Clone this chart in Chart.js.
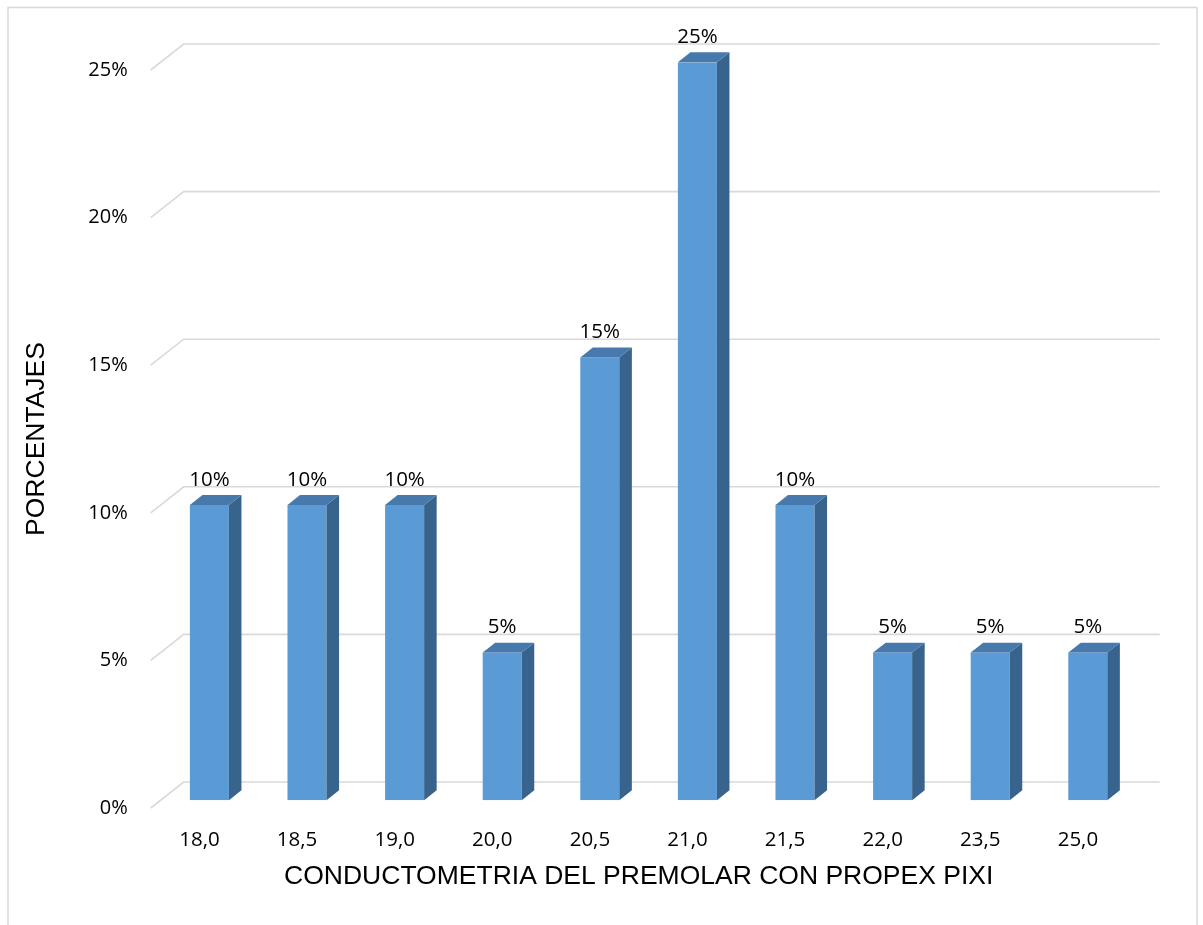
<!DOCTYPE html>
<html>
<head>
<meta charset="utf-8">
<title>Conductometría del premolar con Propex Pixi</title>
<script src="https://cdn.jsdelivr.net/npm/chart.js@4.4.1/dist/chart.umd.min.js"></script>
<style>
  html, body { margin: 0; padding: 0; background: #ffffff; }
  canvas { display: block; }
</style>
</head>
<body>
<canvas id="chart" width="1203" height="925"></canvas>
<script>
// Conductometry readings (mm) and the share of teeth at each reading
const categories = ['18,0', '18,5', '19,0', '20,0', '20,5', '21,0', '21,5', '22,0', '23,5', '25,0'];
const percentages = [10, 10, 10, 5, 15, 25, 10, 5, 5, 5];
const yTickValues = [0, 5, 10, 15, 20, 25];
const xTitle = 'CONDUCTOMETRIA DEL PREMOLAR CON PROPEX PIXI';
const yTitle = 'PORCENTAJES';

// Oblique projection used for the 3-D look: the back wall sits DEPTH px away
// from the front plane; the columns occupy part of that depth.
const DEPTH = { x: 33, y: -26 };
const BAR_FRONT = 0.30;
const BAR_BACK = 0.68;

const COLORS = {
  front: '#5b9bd5',
  side: '#38638c',
  top: '#4779ad',
  grid: '#d9d9d9',
  frame: '#d9d9d9',
  text: '#000000'
};

const threeD = {
  id: 'threeD',
  beforeDraw(chart) {
    const ctx = chart.ctx;
    ctx.save();
    ctx.strokeStyle = COLORS.frame;
    ctx.lineWidth = 1.5;
    ctx.beginPath();
    ctx.moveTo(8, 935);
    ctx.lineTo(8, 7.5);
    ctx.lineTo(1197, 7.5);
    ctx.lineTo(1197, 935);
    ctx.stroke();
    ctx.restore();
  },
  beforeDatasetsDraw(chart) {
    const ctx = chart.ctx;
    const area = chart.chartArea;
    const y = chart.scales.y;
    // back-wall gridlines with their slanted side-wall segment
    ctx.save();
    ctx.strokeStyle = COLORS.grid;
    ctx.lineWidth = 1.6;
    yTickValues.forEach(v => {
      const py = y.getPixelForValue(v);
      ctx.beginPath();
      ctx.moveTo(area.left, py);
      ctx.lineTo(area.left + DEPTH.x, py + DEPTH.y);
      ctx.lineTo(area.right + DEPTH.x, py + DEPTH.y);
      ctx.stroke();
    });
    ctx.restore();
    // shift the column fronts into the middle of the depth
    ctx.save();
    ctx.translate(DEPTH.x * BAR_FRONT, DEPTH.y * BAR_FRONT);
  },
  afterDatasetsDraw(chart) {
    const ctx = chart.ctx;
    ctx.restore();
    const fx = DEPTH.x * BAR_FRONT, fy = DEPTH.y * BAR_FRONT;
    const dx = DEPTH.x * (BAR_BACK - BAR_FRONT), dy = DEPTH.y * (BAR_BACK - BAR_FRONT);
    const meta = chart.getDatasetMeta(0);
    const values = chart.data.datasets[0].data;
    ctx.save();
    meta.data.forEach((bar, i) => {
      const p = bar.getProps(['x', 'y', 'base', 'width'], true);
      const x0 = p.x - p.width / 2 + fx;
      const x1 = p.x + p.width / 2 + fx;
      const yTop = p.y + fy;
      const yBase = p.base + fy;
      // right side face
      ctx.fillStyle = COLORS.side;
      ctx.beginPath();
      ctx.moveTo(x1, yTop);
      ctx.lineTo(x1 + dx, yTop + dy);
      ctx.lineTo(x1 + dx, yBase + dy);
      ctx.lineTo(x1, yBase);
      ctx.closePath();
      ctx.fill();
      // top face
      ctx.fillStyle = COLORS.top;
      ctx.beginPath();
      ctx.moveTo(x0, yTop);
      ctx.lineTo(x0 + dx, yTop + dy);
      ctx.lineTo(x1 + dx, yTop + dy);
      ctx.lineTo(x1, yTop);
      ctx.closePath();
      ctx.fill();
      // value label
      ctx.fillStyle = COLORS.text;
      ctx.font = '20.5px "Open Sans"';
      ctx.textAlign = 'center';
      ctx.textBaseline = 'middle';
      ctx.fillText(values[i] + '%', (x0 + x1) / 2, yTop - 25);
    });
    ctx.restore();
  }
};

Chart.defaults.font.family = '"Liberation Sans", Arial, sans-serif';
Chart.defaults.color = COLORS.text;

new Chart(document.getElementById('chart'), {
  type: 'bar',
  data: {
    labels: categories,
    datasets: [{
      data: percentages,
      backgroundColor: COLORS.front,
      borderWidth: 0,
      barPercentage: 0.4,
      categoryPercentage: 1.0
    }]
  },
  options: {
    responsive: false,
    devicePixelRatio: 1,
    animation: false,
    layout: { padding: { left: 21, top: 70, right: 76.3, bottom: 32 } },
    plugins: {
      legend: { display: false },
      tooltip: { enabled: false }
    },
    scales: {
      x: {
        grid: { display: false, drawTicks: false },
        border: { display: false },
        ticks: { padding: 20, color: COLORS.text, font: { family: '"Open Sans"', size: 20.5 } },
        title: {
          display: true, text: xTitle, color: COLORS.text, padding: 0,
          font: { family: '"Liberation Sans", Arial, sans-serif', size: 26.5 }
        },
        afterFit(scale) { scale.height = 85; }
      },
      y: {
        min: 0,
        max: 25,
        grid: { display: false, drawTicks: false },
        border: { display: false },
        ticks: {
          padding: 23,
          color: COLORS.text,
          font: { family: '"Open Sans"', size: 20 },
          callback: v => v + '%'
        },
        afterBuildTicks(scale) { scale.ticks = yTickValues.map(v => ({ value: v })); },
        title: {
          display: true, text: yTitle, color: COLORS.text, padding: 0,
          font: { family: '"Liberation Sans", Arial, sans-serif', size: 26.5 }
        },
        afterFit(scale) { scale.width = 129.7; }
      }
    }
  },
  plugins: [threeD]
});
</script>
</body>
</html>
